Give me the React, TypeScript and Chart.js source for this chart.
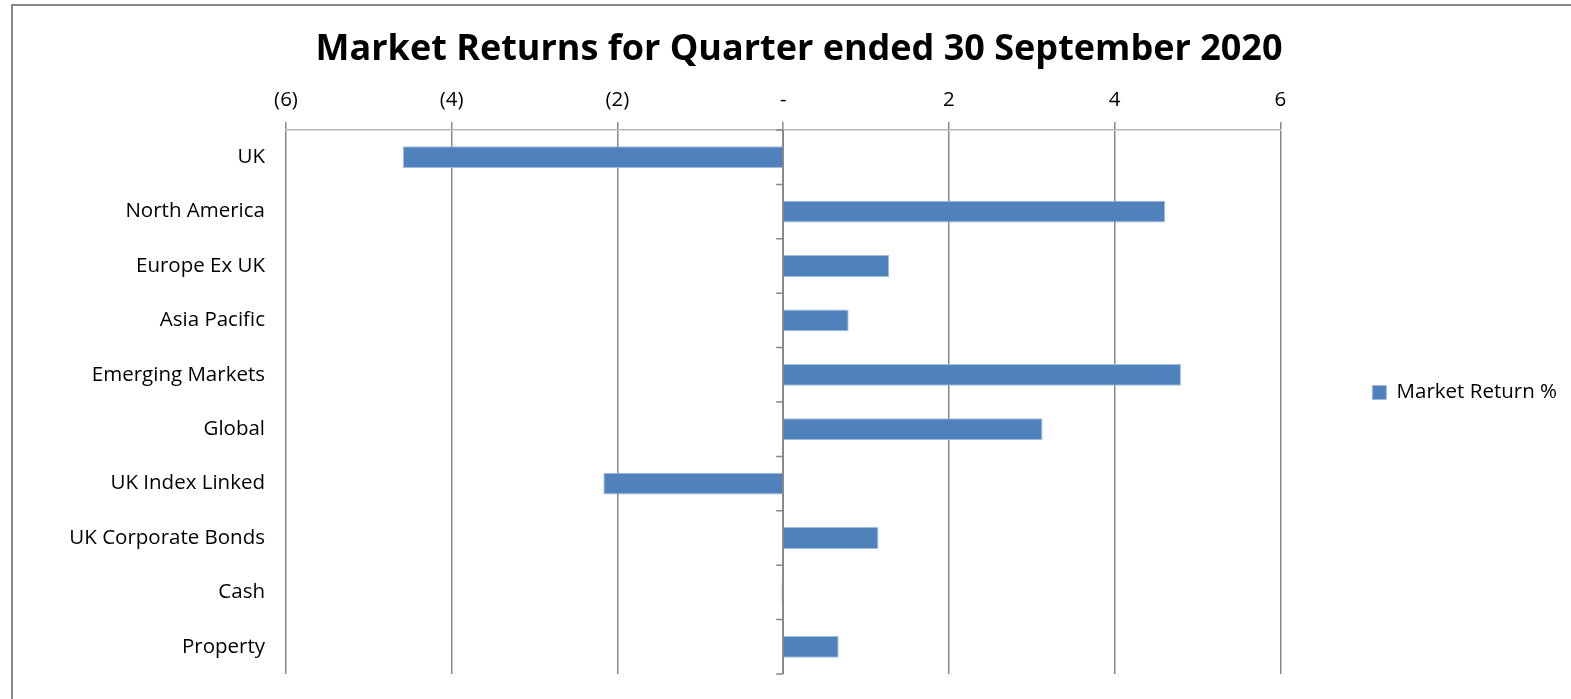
import React, { useEffect, useRef } from "react";
import { Chart, registerables } from "chart.js";

Chart.register(...registerables);

const categories = [
  "UK",
  "North America",
  "Europe Ex UK",
  "Asia Pacific",
  "Emerging Markets",
  "Global",
  "UK Index Linked",
  "UK Corporate Bonds",
  "Cash",
  "Property",
];
const marketReturn = [-4.59, 4.61, 1.28, 0.79, 4.8, 3.13, -2.17, 1.15, -0.02, 0.67];
const seriesLabel = "Market Return %";
const chartTitle = "Market Returns for Quarter ended 30 September 2020";
const xTickValues = [-6, -4, -2, 0, 2, 4, 6];
const xTickLabels = ["(6)", "(4)", "(2)", "-", "2", "4", "6"];

const FONT = "'Open Sans', sans-serif";
const GRID = "#878787";

const axisTicksPlugin = {
  id: "zeroAxisTicks",
  afterDatasetsDraw(chart: any) {
    const x = chart.scales.x;
    const y = chart.scales.y;
    const ctx = chart.ctx;
    const x0 = x.getPixelForValue(0);
    ctx.save();
    ctx.strokeStyle = GRID;
    ctx.lineWidth = 1.5;
    ctx.beginPath();
    ctx.moveTo(x0, chart.chartArea.top);
    ctx.lineTo(x0, chart.chartArea.bottom);
    for (let i = 0; i <= categories.length; i++) {
      const py = y.getPixelForValue(i - 0.5);
      ctx.moveTo(x0 - 7, py);
      ctx.lineTo(x0, py);
    }
    ctx.stroke();
    ctx.restore();
  },
};

export default function App() {
  const ref = useRef<HTMLCanvasElement>(null);
  useEffect(() => {
    if (!ref.current) return;
    const chart = new Chart(ref.current, {
      type: "bar",
      data: {
        labels: categories,
        datasets: [
          {
            label: seriesLabel,
            data: marketReturn,
            backgroundColor: "#4F81BD",
            borderColor: "#a3bcdc",
            borderWidth: 1,
            barPercentage: 0.4,
            categoryPercentage: 1,
          },
        ],
      },
      options: {
        indexAxis: "y",
        animation: false,
        responsive: true,
        maintainAspectRatio: false,
        layout: { padding: { left: 18, right: 18, top: 0, bottom: 25 } },
        scales: {
          x: {
            position: "top",
            min: -6,
            max: 6,
            afterBuildTicks: (s: any) => {
              s.ticks = xTickValues.map((v) => ({ value: v }));
            },
            afterFit: (s: any) => {
              s.height = 58.4;
            },
            ticks: {
              callback: (_v: any, i: number) => xTickLabels[i],
              font: { family: FONT, size: 20.5 },
              color: "#000",
              padding: 10,
              maxRotation: 0,
              autoSkip: false,
            },
            grid: { color: GRID, lineWidth: 1.5, tickLength: 8, drawTicks: true },
            border: { color: "#b4b4b4", width: 1.5 },
          },
          y: {
            afterFit: (s: any) => {
              s.width = 255;
              s.paddingTop = 0;
              s.paddingBottom = 0;
            },
            grid: { display: false, drawTicks: false },
            border: { display: false },
            ticks: {
              font: { family: FONT, size: 20.5 },
              color: "#000",
              padding: 21,
            },
          },
        },
        plugins: {
          title: {
            display: true,
            text: chartTitle,
            color: "#000",
            font: { family: FONT, size: 36, weight: "bold" },
            padding: { top: 22.4, bottom: 0 },
          },
          legend: {
            position: "right",
            title: { display: true, text: "", padding: { top: 0, bottom: 90.6 } },
            labels: {
              boxWidth: 14,
              boxHeight: 14,
              padding: 92,
              color: "#000",
              font: { family: FONT, size: 20.5 },
            },
          },
          tooltip: { enabled: false },
        },
      },
      plugins: [axisTicksPlugin],
    });
    return () => chart.destroy();
  }, []);

  return (
    <div style={{ position: "fixed", inset: 0, overflow: "hidden", background: "#fff" }}>
      <div
        style={{
          position: "absolute",
          left: 11,
          top: 4,
          width: 1620,
          height: 740,
          border: "2px solid #888",
          boxSizing: "border-box",
        }}
      >
        <div style={{ position: "absolute", left: 0, top: 0, width: 1572, height: 693 }}>
          <canvas ref={ref} />
        </div>
      </div>
    </div>
  );
}
